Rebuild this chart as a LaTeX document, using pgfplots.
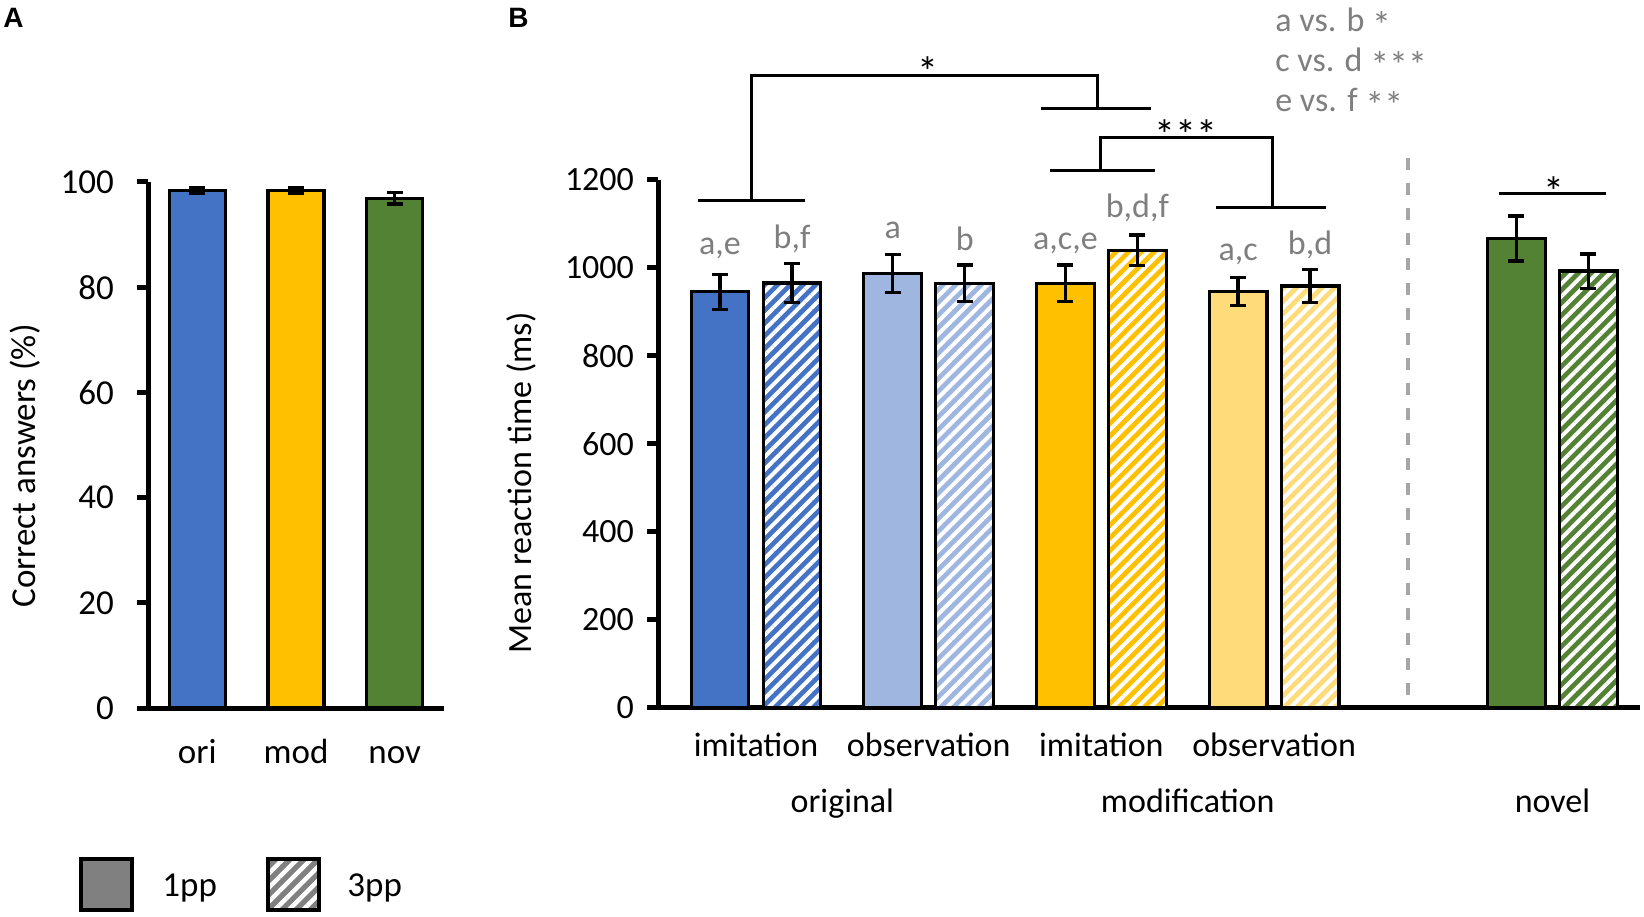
\documentclass[border=0pt]{standalone}
\usepackage{pgfplots}
\pgfplotsset{compat=1.18}
\usetikzlibrary{patterns.meta}
\usepackage{fontspec}
\setmainfont{Carlito}
\newfontfamily\panelfont{Liberation Sans}

\definecolor{cblue}{HTML}{4472C4}
\definecolor{cyellow}{HTML}{FFC000}
\definecolor{cgreen}{HTML}{548235}
\definecolor{lblue}{HTML}{9FB7E0}
\definecolor{lyellow}{HTML}{FFDB7A}
\definecolor{dashgray}{HTML}{A6A6A6}
\definecolor{txtgray}{HTML}{7F7F7F}

\newcommand\st[1]{\raisebox{-3.5pt}{\fontsize{19}{20}\selectfont #1}}
\tikzset{br/.style={line width=1.5pt, black}}

\pgfplotsset{
  panel/.style={
    scale only axis, clip=false,
    axis x line*=bottom, axis y line*=left,
    axis line style={line width=2.5pt},
    tick align=outside,
    major tick length=5.5pt,
    ytick style={line width=2.5pt, black},
    xtick style={draw=none},
    xticklabel style={text height=0.75em, text depth=0.25em},
    /pgf/number format/assume math mode=true,
    /pgf/number format/1000 sep={},
  },
  solid bar/.style={ybar, bar shift=0pt, fill=#1, draw=black, line width=1.6pt,
    error bars/y dir=both, error bars/y explicit,
    error bars/error bar style={line width=1.6pt, black},
    error bars/error mark options={rotate=90, mark size=4pt, line width=1.6pt, black}},
  hatch bar/.style={ybar, bar shift=0pt, preaction={fill=#1}, draw=black, line width=1.6pt,
    pattern={Lines[angle=45,distance=4.5pt,line width=2pt]}, pattern color=white,
    error bars/y dir=both, error bars/y explicit,
    error bars/error bar style={line width=1.6pt, black},
    error bars/error mark options={rotate=90, mark size=4pt, line width=1.6pt, black}},
}

\begin{document}
\begin{tikzpicture}
\path[use as bounding box] (0,0) rectangle (822pt,458pt);

% panel A
\begin{axis}[panel, at={(74pt,104pt)}, anchor=south west, width=148pt, height=263pt,
  xmin=-0.5, xmax=2.5, ymin=0, ymax=100, ytick={0,20,...,100},
  xtick={0,1,2}, xticklabels={ori,mod,nov},
  tick label style={font=\fontsize{17.5}{20}\selectfont},
  yticklabel style={xshift=-8pt},
  xticklabel style={yshift=-11.3pt},
  bar width=0.567]
\addplot[solid bar=cblue] coordinates {(0,98.4) +- (0,0.6)};
\addplot[solid bar=cyellow] coordinates {(1,98.4) +- (0,0.6)};
\addplot[solid bar=cgreen] coordinates {(2,96.9) +- (0,1.1)};
\end{axis}

% panel B
\begin{axis}[panel, at={(329pt,104pt)}, anchor=south west, width=491pt, height=264pt,
  xmin=0.4325, xmax=6.119, ymin=0, ymax=1200, ytick={0,200,...,1200},
  xtick={1,2,3,4}, xticklabels={imitation,observation,imitation,observation},
  tick label style={font=\fontsize{17}{20}\selectfont},
  yticklabel style={xshift=-3pt},
  xticklabel style={yshift=-7.8pt},
  bar width=0.334]
\addplot[solid bar=cblue] coordinates {(0.7915,946) +- (0,40)};
\addplot[hatch bar=cblue] coordinates {(1.2085,966) +- (0,45)};
\addplot[solid bar=lblue] coordinates {(1.7915,987) +- (0,43)};
\addplot[hatch bar=lblue] coordinates {(2.2085,965) +- (0,42)};
\addplot[solid bar=cyellow] coordinates {(2.7915,965) +- (0,42)};
\addplot[hatch bar=cyellow] coordinates {(3.2085,1040) +- (0,35)};
\addplot[solid bar=lyellow] coordinates {(3.7915,946) +- (0,32)};
\addplot[hatch bar=lyellow] coordinates {(4.2085,959) +- (0,37)};
\addplot[solid bar=cgreen] coordinates {(5.4035,1067) +- (0,51)};
\addplot[hatch bar=cgreen] coordinates {(5.8205,993) +- (0,39)};

\draw[dashgray, line width=1.75pt, dash pattern=on 6pt off 6.5pt]
  (axis cs:4.775,1250) -- (axis cs:4.775,18);

% brackets
\draw[br] (axis cs:0.664,1154.5) -- (axis cs:1.284,1154.5);
\draw[br] (axis cs:0.975,1154.5) |- (axis cs:2.975,1438.6) -- (axis cs:2.975,1363.6);
\draw[br] (axis cs:2.650,1363.6) -- (axis cs:3.287,1363.6);
\draw[br] (axis cs:2.702,1220.5) -- (axis cs:3.310,1220.5);
\draw[br] (axis cs:2.992,1220.5) |- (axis cs:3.988,1297.7) -- (axis cs:3.988,1136.4);
\draw[br] (axis cs:3.664,1136.4) -- (axis cs:4.30,1136.4);
\draw[br] (axis cs:5.302,1170) -- (axis cs:5.922,1170);

\begin{scope}[every node/.style={anchor=base, inner sep=0, font=\fontsize{17}{20}\selectfont}]
\node[font=\fontsize{21}{24}\selectfont] at (axis cs:1.996,1412) {*};
\node[font=\fontsize{21}{24}\selectfont] at (axis cs:3.49,1269) {***};
\node[font=\fontsize{21}{24}\selectfont] at (axis cs:5.62,1139.3) {*};
\node[txtgray] at (axis cs:0.7915,1030) {a,e};
\node[txtgray] at (axis cs:1.2085,1045) {b,f};
\node[txtgray] at (axis cs:1.7915,1066) {a};
\node[txtgray] at (axis cs:2.2085,1040) {b};
\node[txtgray] at (axis cs:2.7915,1043) {a,c,e};
\node[txtgray] at (axis cs:3.2085,1114) {b,d,f};
\node[txtgray] at (axis cs:3.7915,1017) {a,c};
\node[txtgray] at (axis cs:4.2085,1030) {b,d};
\node[txtgray, anchor=base west] at (axis cs:4.005,1538.6) {a vs. b \st{*}};
\node[txtgray, anchor=base west] at (axis cs:4.005,1447.7) {c vs. d \st{***}};
\node[txtgray, anchor=base west] at (axis cs:4.005,1356.8) {e vs. f \st{**}};
\node at (axis cs:1.5,-236.4) {original};
\node at (axis cs:3.5,-236.4) {modification};
\node at (axis cs:5.612,-236.4) {novel};
\end{scope}
\end{axis}

% axis titles
\node[rotate=90, anchor=base, inner sep=0, font=\fontsize{17.5}{20}\selectfont]
  at (17.5pt,225pt) {Correct answers (\%)};
\node[rotate=90, anchor=base, inner sep=0, font=\fontsize{17}{20}\selectfont]
  at (265.5pt,216.5pt) {Mean reaction time (ms)};

% panel letters
\node[anchor=base west, inner sep=0, font=\panelfont\bfseries\fontsize{14}{16}\selectfont]
  at (1.5pt,444pt) {A};
\node[anchor=base west, inner sep=0, font=\panelfont\bfseries\fontsize{14}{16}\selectfont]
  at (254pt,444pt) {B};

% legend
\draw[line width=2pt, fill=gray] (40.5pt,3pt) rectangle (66pt,28.5pt);
\draw[line width=2pt, preaction={fill=gray}, pattern={Lines[angle=45,distance=5pt,line width=2.2pt]},
  pattern color=white] (134pt,3pt) rectangle (159.5pt,28.5pt);
\node[anchor=base west, inner sep=0, font=\fontsize{17.5}{20}\selectfont] at (81pt,10pt) {1pp};
\node[anchor=base west, inner sep=0, font=\fontsize{17.5}{20}\selectfont] at (173.5pt,10pt) {3pp};
\end{tikzpicture}
\end{document}
